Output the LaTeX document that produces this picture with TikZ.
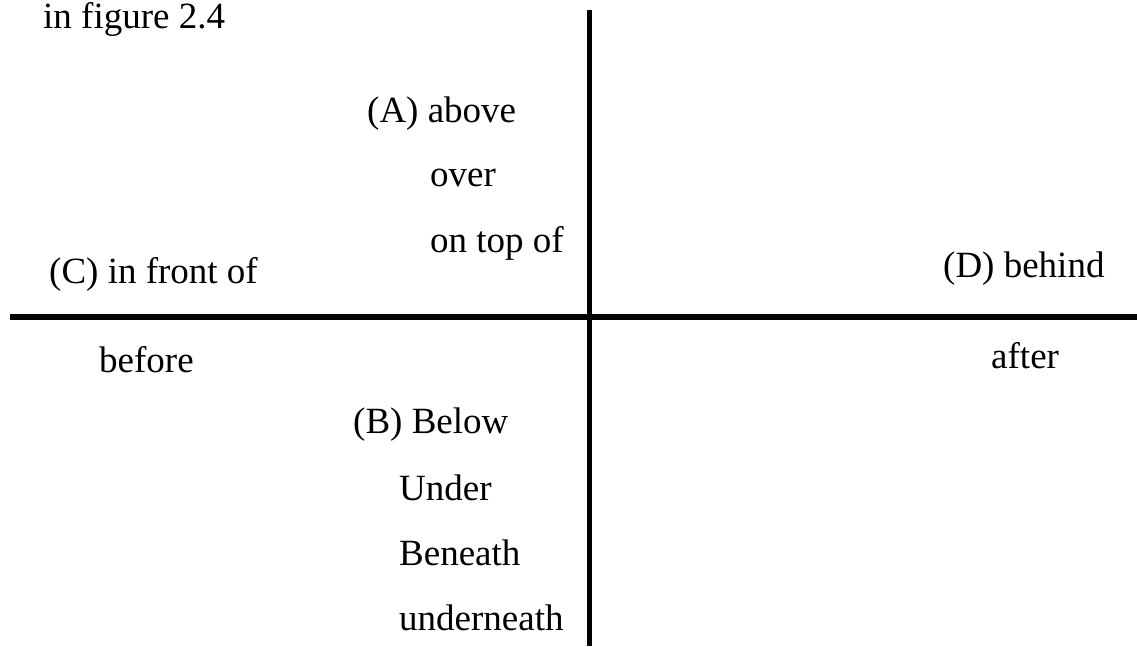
\documentclass[tikz,border=0pt]{standalone}
\usepackage{fontspec}
\setmainfont{Liberation Serif}
\newfontfamily\timesfont{Liberation Serif}
\begin{document}
\begin{tikzpicture}[x=1pt,y=-1pt,
  lbl/.style={anchor=base west,inner sep=0pt,font=\timesfont\fontsize{37}{42}\selectfont}]
\useasboundingbox (0,0) rectangle (1137,647);
\coordinate (vt) at (589,10);
\coordinate (vb) at (589,646);
\coordinate (hl) at (10,317);
\coordinate (hr) at (1137,317);
\draw[line width=5pt] (vt) -- (vb);
\draw[line width=6pt] (hl) -- (hr);
\node[lbl] (fig) at (43,29) {in figure 2.4};
\node[lbl] (a1) at (367,123) {(A) above};
\node[lbl] (a2) at (430,187) {over};
\node[lbl] (a3) at (430,252) {on top of};
\node[lbl] (c1) at (49,283) {(C) in front of};
\node[lbl] (d1) at (943,277) {(D) behind};
\node[lbl] (c2) at (99,372) {before};
\node[lbl] (d2) at (991,368) {after};
\node[lbl] (b1) at (353,433) {(B) Below};
\node[lbl] (b2) at (399,500) {Under};
\node[lbl] (b3) at (399,565) {Beneath};
\node[lbl] (b4) at (399,630) {underneath};
\end{tikzpicture}
\end{document}
